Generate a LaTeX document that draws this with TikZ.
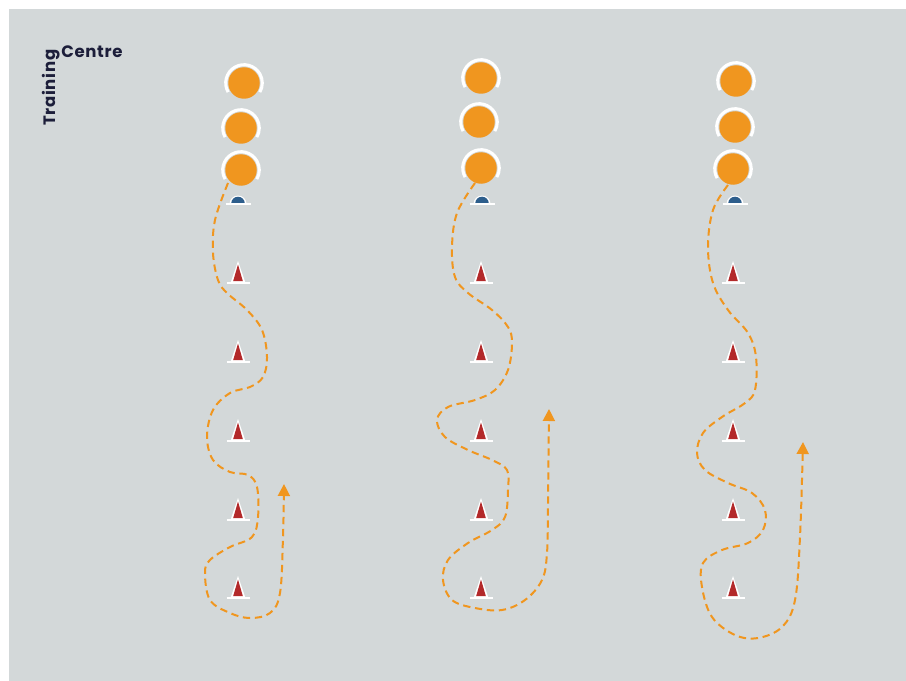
\documentclass[tikz,border=0pt]{standalone}
\usepackage{fontspec}
\usetikzlibrary{arrows.meta,calc}
\newfontfamily\logofont{Poppins}[LetterSpace=4]
\definecolor{bgc}{HTML}{D3D8D9}
\definecolor{orng}{HTML}{F0961F}
\definecolor{conered}{HTML}{B3292A}
\definecolor{mblue}{HTML}{2D5E8C}
\definecolor{navy}{HTML}{1C1E3A}
\tikzset{
  playerdot/.style={circle,fill=orng,minimum size=31.5*0.75pt,inner sep=0pt},
  ring/.style={draw=white,line width=2.3pt},
  runpath/.style={draw=orng,line width=1.5pt,dash pattern=on 5.5pt off 3.5pt,-{Triangle[length=9pt,width=9pt]}},
  logotext/.style={text=navy,font=\logofont\bfseries\fontsize{12.4pt}{14pt}\selectfont,inner sep=0pt}
}
\newcommand\putplayer[3]{%
  \node[playerdot] (#3) at (#1,#2) {};
  \draw[ring] (#3.center) ++(150:18.3) arc[start angle=150,end angle=390,radius=18.3];
}
\newcommand\putcone[3]{%
  \coordinate (#3) at (#1,#2);
  \fill[white] ($(#3)+(0,-22)$) -- ($(#3)+(7.5,0)$) -- ($(#3)+(-7.5,0)$) -- cycle;
  \draw[white,line width=1.7pt] ($(#3)+(-11.5,0)$) -- ($(#3)+(11.5,0)$);
  \fill[conered] ($(#3)+(0,-18.5)$) -- ($(#3)+(4.8,-2)$) -- ($(#3)+(-4.8,-2)$) -- cycle;
}
\newcommand\putmarker[3]{%
  \coordinate (#3) at (#1,#2);
  \fill[white] ($(#3)+(-8.5,0)$) arc[start angle=180,end angle=360,radius=8.5] -- cycle;
  \fill[mblue] ($(#3)+(-6.8,-0.5)$) arc[start angle=180,end angle=360,radius=6.8] -- cycle;
  \draw[white,line width=1.6pt] ($(#3)+(-12.5,0)$) -- ($(#3)+(12.5,0)$);
}
\begin{document}
\begin{tikzpicture}[x=0.75pt,y=-0.75pt]
\useasboundingbox (0,0) rectangle (906,681);
\fill[white] (0,0) rectangle (906,681);
\fill[bgc] (9,9) rectangle (906,681);
% logo
\node[logotext,anchor=base west] (centre) at (61,58) {Centre};
\node[logotext,anchor=base west,rotate=90] (training) at (55.5,126) {Training};
% column 1
\putplayer{244}{83}{a1}
\putplayer{241}{128}{a2}
\putplayer{241}{170}{a3}
\putmarker{238}{204}{am}
\putcone{238}{283}{ac1}
\putcone{238}{362}{ac2}
\putcone{238}{441}{ac3}
\putcone{238}{520}{ac4}
\putcone{238}{598}{ac5}
\coordinate (aend) at (284,484);
\draw[runpath] plot[smooth,tension=0.6] coordinates {(228,183) (215,220) (213,253) (218,280) (227,293) (247,310) (262,330) (267,357) (263,377) (250,387) (230,393) (213,410) (207,437) (213,460) (230,472) (248,475) (257,487) (258,517) (252,537) (230,547) (210,560) (205,573) (210,600) (230,613) (250,618) (270,613) (280,593) (283,537) (aend)};
% column 2
\putplayer{481}{78}{b1}
\putplayer{479}{122}{b2}
\putplayer{481}{168}{b3}
\putmarker{482}{204}{bm}
\putcone{481}{283}{bc1}
\putcone{481}{362}{bc2}
\putcone{481}{441}{bc3}
\putcone{481}{520}{bc4}
\putcone{481}{598}{bc5}
\coordinate (bend) at (549,409);
\draw[runpath] plot[smooth,tension=0.6] coordinates {(475,183) (457,213) (452,247) (455,277) (468,293) (492,310) (508,327) (512,343) (508,370) (495,390) (475,400) (448,407) (437,420) (445,437) (468,450) (492,460) (507,470) (508,490) (505,517) (492,530) (468,543) (448,560) (443,580) (452,600) (475,608) (502,610) (525,600) (542,580) (547,553) (548,503) (bend)};
% column 3
\putplayer{736}{81}{c1}
\putplayer{735}{127}{c2}
\putplayer{733}{169}{c3}
\putmarker{735}{204}{cm}
\putcone{733}{283}{cc1}
\putcone{733}{362}{cc2}
\putcone{733}{441}{cc3}
\putcone{733}{520}{cc4}
\putcone{733}{598}{cc5}
\coordinate (cend) at (803,442);
\draw[runpath] plot[smooth,tension=0.6] coordinates {(728,185) (713,210) (708,247) (713,283) (728,310) (748,333) (756,357) (755,390) (745,403) (722,417) (703,433) (697,453) (705,470) (728,483) (752,493) (765,510) (763,530) (748,543) (722,550) (703,563) (702,587) (712,617) (735,635) (758,638) (782,627) (795,600) (800,537) (cend)};
\end{tikzpicture}
\end{document}
